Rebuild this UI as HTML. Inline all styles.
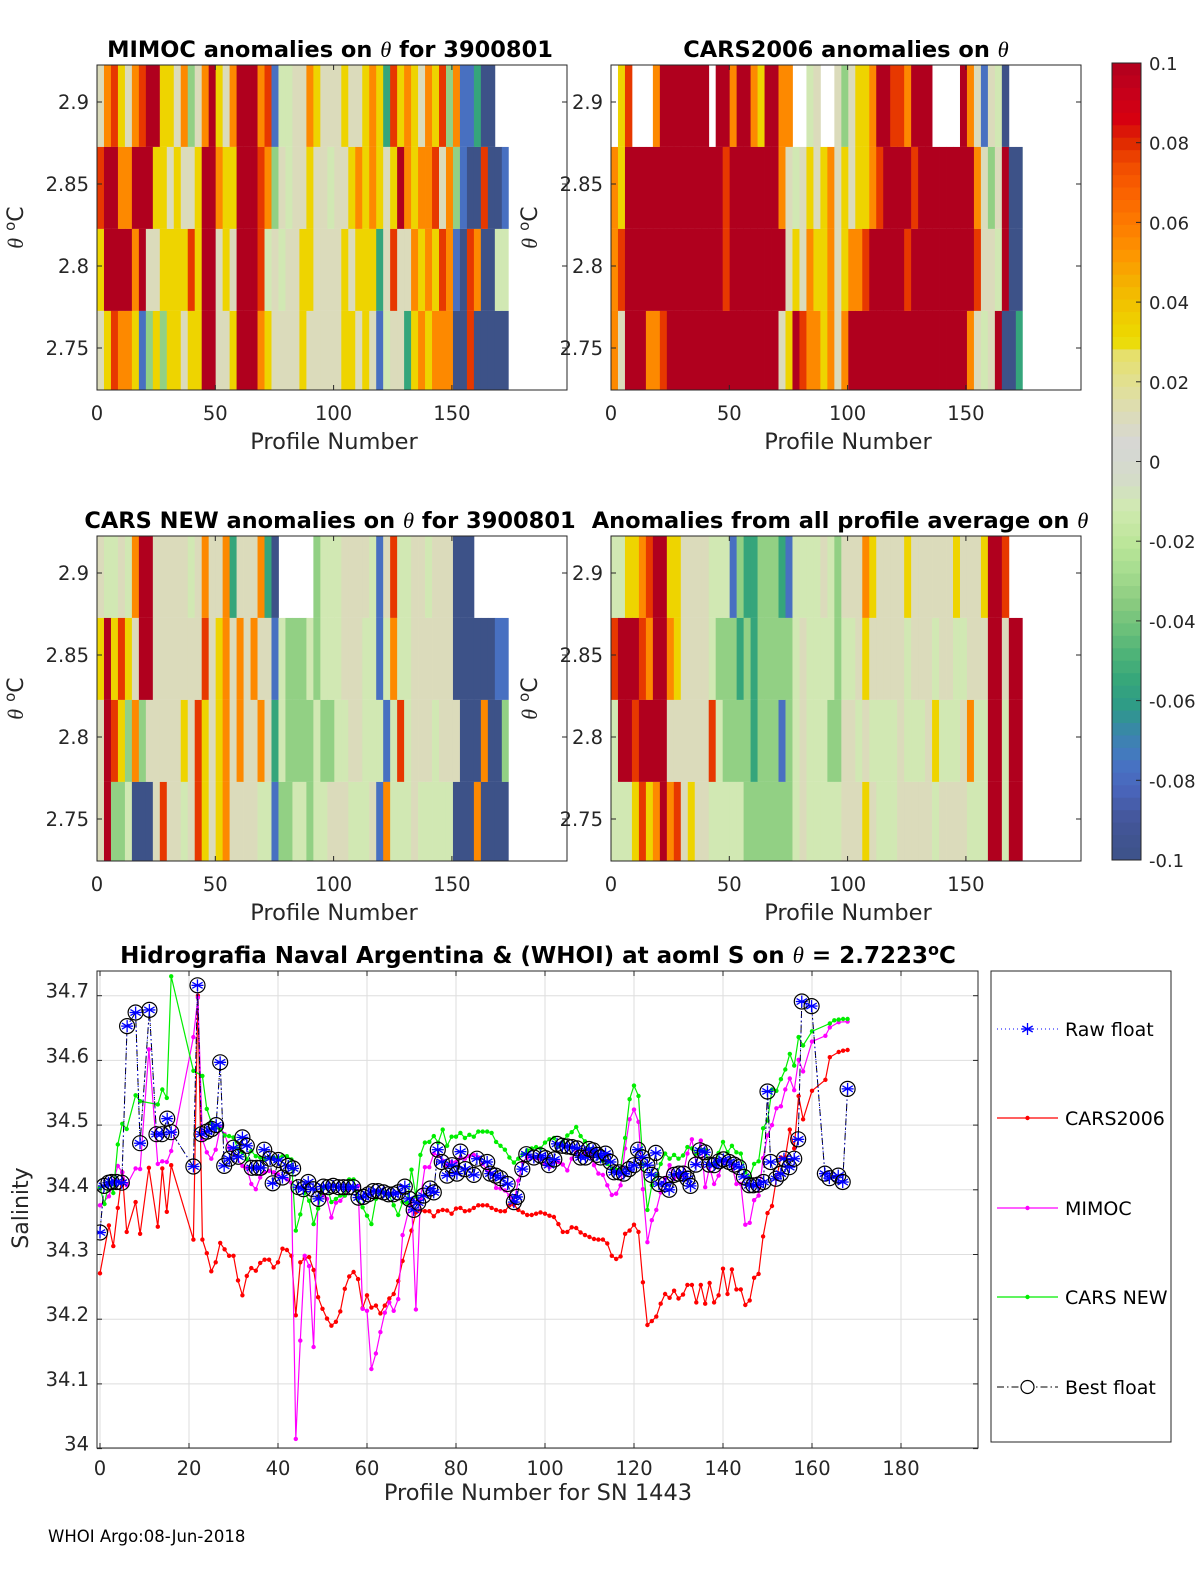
<!DOCTYPE html>
<html><head><meta charset="utf-8">
<style>
html,body{margin:0;padding:0;background:#fff;}
svg{display:block;font-family:"DejaVu Sans","Liberation Sans",sans-serif;}
</style></head>
<body>
<svg id="fig" xmlns="http://www.w3.org/2000/svg" width="1200" height="1575" viewBox="0 0 1200 1575">
<rect x="0" y="0" width="1200" height="1575" fill="#fff"/>
<g id="heat"></g>
<g id="cbar"></g>
<g id="sal"></g>
<text x="48" y="1542" font-size="16.5" fill="#000">WHOI Argo:08-Jun-2018</text>
</svg>
<script>
// ---------- heatmap data (one char per chunk, 0..9 = -0.1..0.1, '.' = no data) ----------
const mimocRows = [
 "578657899665735796579997814455765556556762867657683711200",
 "899779996656556997669998735455655455676765697677857310080011",
 "69999795566668699565999845455665555656662585576768710870044",
 "56877613636656699556999765555655555665651455267677700800000"
];
const cars2006Rows = [
 ".68...79999999.99799769977..45..53566799887999....9751540",
 "769999999999999989999999754565675656678999989999999975359003 3",
 "789999999999999989999999956576675677899999899999999985549005 5",
 "75999778999999999999999956987767579999999999999999975459002 2"
];
const carsNewRows = [
 "54454799555554575572555720.....34445555415844554555000",
 "69686599555555585675757551433343444555441474455555500000011",
 "598637355555658656757557524333343344554441484555455500070033",
 "59334000585545865675555441334434455544451744454444400070000"
];
const avgRows = [
 "446678996655554441322333214444543555765555655555565556998",
 "89998799765555433323233333454444344565555545554554455599599",
 "4998 9999 5555 5584 3333 2333 1345 4443 3554 5444 4544 4564 4457 4499 499",
 "4446 8679 7856 5544 4443 3333 3345 4444 4555 6544 4555 5545 5554 4499 499"
];
const rowEdgesTheta = [2.9226, 2.8726, 2.8226, 2.7726, 2.7244];
const chunkProfiles = 2.95;
const lastProfile = 174;
const xTicksTop = [0, 50, 100, 150];
const yTicksTop = [2.75, 2.8, 2.85, 2.9];
const cbarTicks = [0.1, 0.08, 0.06, 0.04, 0.02, 0, -0.02, -0.04, -0.06, -0.08, -0.1];
const cbarLabels = ["0.1","0.08","0.06","0.04","0.02","0","-0.02","-0.04","-0.06","-0.08","-0.1"];

// ---------- salinity series ----------
const bestP = [0,0.9,1.9,2.6,3.7,4.9,6.1,8,9,11.1,12.7,13.9,15.1,16,21,21.9,22.8,24,25.1,26.1,27,27.9,29.1,30,31.1,32,33,34.1,35.2,36.1,36.9,38.2,38.8,40.1,41,42.3,43.4,44.6,45.7,46.8,47.9,49.1,50.2,51.3,52.4,53.6,54.7,55.8,56.9,58.1,59.2,60.3,61.4,62.5,63.7,64.8,65.9,67,68.5,69.5,70.5,71.5,72.7,74.2,75,75.9,76.8,78,79.1,80.2,81,82.1,84,84.7,87,87.7,88.9,90,91.6,93,93.7,94.9,95.8,97.5,99,100.1,100.9,102.1,102.7,103.9,105,106.1,107.2,108,109.1,109.9,110.8,111.7,112.5,113.6,114.7,115.5,116.6,117.7,118.9,120,120.9,121.9,123,123.9,124.9,125.6,127.1,127.9,129,130.1,131.1,132,132.7,133.9,134.8,135.9,136.9,138,139.1,140.1,141.4,142.5,143.6,144.7,145.9,146.8,147.9,149.1,150,150.7,151.9,153,153.7,154.9,156,156.9,157.7,159.9,162.9,163.9,165.9,166.9,168];
const bestS = [34.334,34.406,34.411,34.412,34.412,34.411,34.653,34.674,34.472,34.678,34.486,34.486,34.51,34.489,34.436,34.716,34.486,34.49,34.494,34.5,34.597,34.437,34.448,34.465,34.451,34.481,34.468,34.434,34.434,34.434,34.462,34.448,34.41,34.446,34.419,34.437,34.433,34.404,34.401,34.412,34.401,34.386,34.405,34.404,34.406,34.404,34.404,34.404,34.404,34.388,34.389,34.393,34.398,34.398,34.396,34.393,34.393,34.396,34.405,34.386,34.369,34.38,34.391,34.402,34.396,34.462,34.443,34.422,34.438,34.425,34.459,34.432,34.423,34.448,34.443,34.425,34.422,34.418,34.409,34.381,34.389,34.432,34.455,34.45,34.453,34.449,34.438,34.447,34.471,34.468,34.467,34.466,34.464,34.45,34.45,34.463,34.461,34.454,34.45,34.456,34.443,34.427,34.427,34.425,34.432,34.438,34.462,34.45,34.438,34.423,34.457,34.409,34.409,34.4,34.423,34.425,34.425,34.417,34.406,34.439,34.461,34.458,34.439,34.438,34.444,34.447,34.443,34.439,34.435,34.42,34.407,34.407,34.408,34.412,34.552,34.443,34.417,34.425,34.448,34.435,34.448,34.478,34.691,34.684,34.425,34.418,34.422,34.412,34.556];

const newP = [0,1,2,3,4,5,6,8,9,13,14,15,16,21,23,24,25,26,27,28,29,30,31,32,33,34,35,36,37,38,39,40,41,42,43,44,45,46,47,48,49,50,51,52,53,54,55,56,57,58,59,60,61,62,63,64,65,66,67,68,69,70,71,72,73,74,75,76,77,78,79,80,81,82,83,84,85,86,87,88,89,90,91,92,93,94,95,96,97,98,99,100,101,102,103,104,105,106,107,108,109,110,111,112,113,114,115,116,117,118,119,120,121,122,123,124,125,126,127,128,129,130,131,132,133,134,135,136,137,138,139,140,141,142,143,144,145,146,147,148,149,150,151,152,153,154,155,156,157,158,160,164,165,166,167,168];
const newS = [34.403,34.378,34.412,34.395,34.47,34.502,34.494,34.546,34.537,34.532,34.555,34.542,34.73,34.584,34.576,34.525,34.504,34.496,34.494,34.484,34.483,34.481,34.463,34.458,34.447,34.46,34.452,34.45,34.447,34.45,34.45,34.45,34.452,34.452,34.447,34.337,34.362,34.396,34.383,34.347,34.371,34.401,34.406,34.381,34.386,34.391,34.391,34.416,34.416,34.386,34.373,34.36,34.347,34.386,34.396,34.396,34.391,34.376,34.361,34.381,34.38,34.431,34.39,34.454,34.473,34.474,34.483,34.473,34.493,34.468,34.482,34.482,34.488,34.48,34.485,34.482,34.49,34.49,34.49,34.488,34.474,34.468,34.462,34.45,34.442,34.448,34.455,34.461,34.464,34.466,34.464,34.473,34.478,34.48,34.468,34.475,34.484,34.489,34.497,34.483,34.475,34.463,34.456,34.45,34.445,34.44,34.433,34.431,34.432,34.48,34.54,34.561,34.545,34.44,34.369,34.407,34.422,34.44,34.456,34.448,34.454,34.448,34.453,34.466,34.464,34.456,34.462,34.461,34.438,34.438,34.457,34.474,34.458,34.468,34.458,34.456,34.427,34.42,34.44,34.444,34.495,34.507,34.555,34.553,34.571,34.586,34.61,34.592,34.636,34.623,34.645,34.657,34.662,34.663,34.664,34.664];

const mimocP = [0,2,4,5,6,8,9,11,13,14,15,16,21,22,23,24,25,26,27,28,29,32,33,34,35,36,37,38,39,40,41,42,43,44,45,46,47,48,49,50,51,52,53,54,55,56,57,58,59,60,61,62,63,64,65,66,67,68,70,71,72,73,74,75,76,77,78,79,80,81,82,83,84,85,86,87,88,89,90,91,92,93,94,95,96,97,98,99,100,101,102,103,104,105,106,107,108,109,110,111,112,113,114,115,116,117,118,119,120,121,122,123,124,125,126,127,128,129,130,131,132,133,134,135,136,137,138,139,140,141,142,143,144,145,146,147,148,149,150,151,152,153,154,155,156,157,158,160,163,164,166,168];
const mimocS = [34.376,34.39,34.437,34.427,34.407,34.433,34.432,34.617,34.44,34.444,34.443,34.46,34.636,34.697,34.478,34.458,34.448,34.462,34.496,34.486,34.465,34.437,34.434,34.409,34.401,34.419,34.427,34.429,34.427,34.424,34.419,34.416,34.411,34.015,34.167,34.298,34.282,34.157,34.386,34.391,34.386,34.357,34.38,34.383,34.391,34.401,34.404,34.406,34.216,34.213,34.123,34.147,34.18,34.21,34.226,34.213,34.231,34.33,34.386,34.215,34.386,34.435,34.435,34.456,34.453,34.445,34.438,34.443,34.443,34.449,34.448,34.452,34.454,34.45,34.44,34.43,34.425,34.403,34.402,34.399,34.391,34.381,34.414,34.443,34.45,34.45,34.449,34.448,34.44,34.435,34.443,34.443,34.439,34.43,34.448,34.458,34.453,34.458,34.458,34.438,34.425,34.423,34.407,34.392,34.394,34.407,34.464,34.509,34.524,34.505,34.401,34.319,34.353,34.369,34.396,34.417,34.438,34.417,34.422,34.422,34.456,34.478,34.439,34.476,34.404,34.435,34.409,34.422,34.443,34.445,34.438,34.409,34.409,34.346,34.349,34.384,34.391,34.449,34.484,34.5,34.526,34.529,34.555,34.572,34.554,34.601,34.583,34.629,34.638,34.651,34.659,34.66];

const carsP = [0,2,3,4,5,6,8,9,11,13,14,15,16,21,22,23,24,25,26,27,28,29,30,31,32,33,34,35,36,37,38,39,40,41,42,43,44,45,46,47,48,49,50,51,52,53,54,55,56,57,58,59,60,61,62,63,64,65,66,67,68,70,71,72,73,74,75,76,77,78,79,80,81,82,83,84,85,86,87,88,89,90,91,92,93,94,95,96,97,98,99,100,101,102,103,104,105,106,107,108,109,110,111,112,113,114,115,116,117,118,119,120,121,122,123,124,125,126,127,128,129,130,131,132,133,134,135,136,137,138,139,140,141,142,143,144,145,146,147,148,149,150,151,152,153,154,155,156,157,158,160,163,164,166,167,168];
const carsS = [34.271,34.345,34.313,34.372,34.427,34.335,34.381,34.332,34.434,34.343,34.433,34.366,34.438,34.323,34.7,34.323,34.302,34.274,34.288,34.318,34.308,34.298,34.298,34.26,34.237,34.267,34.279,34.275,34.287,34.292,34.292,34.28,34.288,34.309,34.307,34.298,34.206,34.288,34.294,34.296,34.276,34.234,34.216,34.201,34.19,34.196,34.212,34.247,34.266,34.273,34.262,34.217,34.237,34.218,34.221,34.209,34.221,34.232,34.239,34.259,34.29,34.337,34.365,34.368,34.367,34.367,34.359,34.367,34.369,34.368,34.363,34.371,34.372,34.367,34.368,34.372,34.376,34.376,34.376,34.372,34.369,34.367,34.367,34.376,34.377,34.369,34.365,34.361,34.361,34.363,34.365,34.363,34.36,34.358,34.347,34.335,34.335,34.342,34.341,34.334,34.33,34.327,34.324,34.323,34.323,34.317,34.298,34.293,34.297,34.332,34.337,34.346,34.335,34.257,34.191,34.197,34.204,34.224,34.239,34.233,34.244,34.232,34.238,34.253,34.253,34.226,34.253,34.224,34.256,34.226,34.237,34.278,34.239,34.277,34.246,34.246,34.222,34.229,34.264,34.27,34.328,34.364,34.375,34.417,34.45,34.45,34.493,34.464,34.545,34.509,34.553,34.57,34.605,34.613,34.615,34.616];

const salXTicks = [0,20,40,60,80,100,120,140,160,180];
const salYTicks = [34,34.1,34.2,34.3,34.4,34.5,34.6,34.7];
const salYLabels = ["34","34.1","34.2","34.3","34.4","34.5","34.6","34.7"];

// ---------- helpers ----------
const NS = "http://www.w3.org/2000/svg";
function mk(tag, attrs, parent, txt){
  const e = document.createElementNS(NS, tag);
  for (const k in attrs) e.setAttribute(k, attrs[k]);
  if (txt !== undefined) e.textContent = txt;
  parent.appendChild(e);
  return e;
}
const cmapStops = [
 [-0.1,"#3d5288"],[-0.09,"#44569a"],[-0.082,"#4a66bc"],[-0.075,"#4676c4"],[-0.068,"#3a86aa"],[-0.062,"#2e9a88"],
 [-0.055,"#36a67a"],[-0.048,"#50b478"],[-0.042,"#6cc07a"],[-0.035,"#8ccc80"],[-0.028,"#a5dc8f"],[-0.02,"#bde69a"],
 [-0.012,"#d0eab0"],[-0.005,"#d4dcc8"],[0.004,"#d6d6d6"],[0.012,"#dcdcb8"],[0.02,"#e2e090"],[0.027,"#e6e06a"],
 [0.03,"#ecdc00"],[0.038,"#f0c800"],[0.045,"#f5b000"],[0.052,"#fd9500"],[0.06,"#fd7a00"],[0.068,"#fa6000"],
 [0.075,"#f04a00"],[0.08,"#e02a00"],[0.086,"#d60010"],[0.092,"#c8001a"],[0.1,"#b0001e"]];
function hex2rgb(h){return [parseInt(h.substr(1,2),16),parseInt(h.substr(3,2),16),parseInt(h.substr(5,2),16)];}
function cmap(v){
  if (v <= cmapStops[0][0]) return cmapStops[0][1];
  for (let i=1;i<cmapStops.length;i++){
    if (v <= cmapStops[i][0]){
      const a=cmapStops[i-1], b=cmapStops[i], t=(v-a[0])/(b[0]-a[0]);
      const ca=hex2rgb(a[1]), cb=hex2rgb(b[1]);
      return "rgb("+ca.map((c,j)=>Math.round(c+(cb[j]-c)*t)).join(",")+")";
    }
  }
  return cmapStops[cmapStops.length-1][1];
}
function levelValue(ch){ return -0.1 + (+ch)*0.2/9; }

// ---------- heatmap panels ----------
const heat = document.getElementById("heat");
const panels = [
 {rows: mimocRows, left:97, top:65, name:"mimoc", title:["MIMOC anomalies on ","θ","  for 3900801"], tx:330},
 {rows: cars2006Rows, left:611, top:65, name:"cars2006", title:["CARS2006 anomalies on ","θ",""], tx:846},
 {rows: carsNewRows, left:97, top:536, name:"cars-new", title:["CARS NEW anomalies on ","θ"," for 3900801"], tx:330},
 {rows: avgRows, left:611, top:536, name:"profile-average", title:["Anomalies from all profile average on ","θ",""], tx:840}
];
const PW = 470, PH = 325, PXS = 2.366;
panels.forEach((pn, pi) => {
  const g = mk("g", {}, heat);
  
  
  const xs = p => pn.left + p*PXS;
  const ys = t => pn.top + 37 + (2.9 - t)*1640;
  const clipId = "clip"+pi;
  const cp = mk("clipPath", {id:clipId}, g);
  mk("rect", {x:pn.left, y:pn.top, width:xs(lastProfile)-pn.left, height:PH}, cp);
  const cells = mk("g", {"clip-path":"url(#"+clipId+")"}, g);
  
  
  pn.rows.forEach((rs, ri) => {
    const s = rs.replace(/\s/g, "");
    const y0 = ys(rowEdgesTheta[ri]), y1 = ys(rowEdgesTheta[ri+1]);
    for (let i=0;i<s.length;i++){
      const ch = s[i];
      if (ch === ".") continue;
      const x0 = xs(i*chunkProfiles), x1 = xs((i+1)*chunkProfiles);
      const r = mk("rect", {x:x0.toFixed(2), y:y0.toFixed(2), width:(x1-x0+0.4).toFixed(2), height:(y1-y0).toFixed(2), fill:cmap(levelValue(ch))}, cells);
      
      
    }
  });
  const box = mk("rect", {x:pn.left, y:pn.top, width:PW, height:PH, fill:"none", stroke:"#262626", "stroke-width":1}, g);
  
  
  xTicksTop.forEach(t => {
    const x = xs(t);
    mk("line", {x1:x, x2:x, y1:pn.top+PH, y2:pn.top+PH-5, stroke:"#262626"}, g);
    mk("line", {x1:x, x2:x, y1:pn.top, y2:pn.top+5, stroke:"#262626"}, g);
    const tl = mk("text", {x:x, y:pn.top+PH+30, "font-size":19.5, "text-anchor":"middle", fill:"#262626"}, g, String(t));
    
    
  });
  yTicksTop.forEach(t => {
    const y = ys(t);
    mk("line", {x1:pn.left, x2:pn.left+5, y1:y, y2:y, stroke:"#262626"}, g);
    mk("line", {x1:pn.left+PW, x2:pn.left+PW-5, y1:y, y2:y, stroke:"#262626"}, g);
    const tl = mk("text", {x:pn.left-8, y:y+7, "font-size":19.5, "text-anchor":"end", fill:"#262626"}, g, String(t));
    
    
  });
  const xl = mk("text", {x:pn.left+PW/2+2, y:pn.top+PH+59, "font-size":22.5, "text-anchor":"middle", fill:"#262626"}, g, "Profile Number");
  
  
  const yl = mk("text", {transform:"translate("+(pn.left-74)+","+(pn.top+PH/2)+") rotate(-90)", "font-size":22, "text-anchor":"middle", fill:"#262626"}, g);
  
  
  mk("tspan", {"font-style":"italic", "font-family":"Liberation Serif, serif"}, yl, "θ");
  mk("tspan", {}, yl, " ");
  mk("tspan", {dy:-8, "font-size":15}, yl, "o");
  mk("tspan", {dy:8}, yl, "C");
  const tt = mk("text", {x:pn.tx, y:pn.top-8, "font-size":22.5, "font-weight":"bold", "text-anchor":"middle", fill:"#000", "xml:space":"preserve"}, g);
  
  
  mk("tspan", {}, tt, pn.title[0]);
  mk("tspan", {"font-style":"italic", "font-weight":"normal", "font-family":"Liberation Serif, serif"}, tt, pn.title[1]);
  if (pn.title[2]) mk("tspan", {}, tt, pn.title[2]);
});

// ---------- colorbar ----------
const cb = document.getElementById("cbar");
const CBX=1112, CBW=29, CBT=63, CBB=860;
const cy = v => CBT + (0.1 - v)/0.2*(CBB-CBT);
const nb = 64;
for (let i=0;i<nb;i++){
  const v1 = 0.1 - i*0.2/nb, v2 = 0.1 - (i+1)*0.2/nb;
  const r = mk("rect", {x:CBX, y:cy(v1), width:CBW, height:(cy(v2)-cy(v1)+0.5), fill:cmap((v1+v2)/2)}, cb);
  
  
}
mk("rect", {x:CBX, y:CBT, width:CBW, height:CBB-CBT, fill:"none", stroke:"#262626"}, cb);
cbarTicks.forEach((t,i) => {
  const y = cy(t);
  mk("line", {x1:CBX+CBW, x2:CBX+CBW-5, y1:y, y2:y, stroke:"#262626"}, cb);
  const tl = mk("text", {x:CBX+CBW+8, y:y+7, "font-size":18, fill:"#262626"}, cb, cbarLabels[i]);
  
  
});

// ---------- salinity chart ----------
const sal = document.getElementById("sal");
const AX0=97, AX1=978, AY0=971, AY1=1448;
const sx = p => 100 + p*4.45;
const sy = s => 995.7 + (34.7 - s)*647;
salXTicks.forEach(t => {
  const x = sx(t);
  mk("line", {x1:x, x2:x, y1:AY0, y2:AY1, stroke:"#dedede"}, sal);
});
salYTicks.forEach(t => {
  const y = sy(t);
  mk("line", {x1:AX0, x2:AX1, y1:y, y2:y, stroke:"#dedede"}, sal);
});
const clipS = mk("clipPath", {id:"clipSal"}, sal);
mk("rect", {x:AX0, y:AY0, width:AX1-AX0, height:AY1-AY0}, clipS);
const plot = mk("g", {"clip-path":"url(#clipSal)"}, sal);

function series(P, S, color, name){
  const g = mk("g", {}, plot);
  
  
  const n = Math.min(P.length, S.length);
  let d = "";
  for (let i=0;i<n;i++) d += (i?"L":"M") + sx(P[i]).toFixed(1) + "," + sy(S[i]).toFixed(1);
  mk("path", {d:d, fill:"none", stroke:color, "stroke-width":1.2}, g);
  for (let i=0;i<n;i++){
    const c = mk("circle", {cx:sx(P[i]).toFixed(1), cy:sy(S[i]).toFixed(1), r:2.2, fill:color}, g);
    
    
  }
}
series(carsP, carsS, "#ff0000", "cars2006-line");
series(mimocP, mimocS, "#ff00ff", "mimoc-line");
series(newP, newS, "#00ee00", "cars-new-line");

function star(g, x, y, r, color){
  for (let k=0;k<3;k++){
    const a = Math.PI/2 + k*Math.PI/3;
    mk("line", {x1:x-r*Math.cos(a), y1:y-r*Math.sin(a), x2:x+r*Math.cos(a), y2:y+r*Math.sin(a), stroke:color, "stroke-width":1.3}, g);
  }
  mk("line", {x1:x-r, y1:y, x2:x+r, y2:y, stroke:color, "stroke-width":1.3}, g);
}
{
  const g = mk("g", {}, plot);
  
  
  const n = Math.min(bestP.length, bestS.length);
  let d = "";
  for (let i=0;i<n;i++) d += (i?"L":"M") + sx(bestP[i]).toFixed(1) + "," + sy(bestS[i]).toFixed(1);
  mk("path", {d:d, fill:"none", stroke:"#000", "stroke-width":1, "stroke-dasharray":"7,3,1.5,3"}, g);
  mk("path", {d:d, fill:"none", stroke:"#0000ff", "stroke-width":1, "stroke-dasharray":"1,3"}, g);
  for (let i=0;i<n;i++){
    const x = sx(bestP[i]), y = sy(bestS[i]);
    star(g, x, y, 6, "#0000ff");
    const c = mk("circle", {cx:x.toFixed(1), cy:y.toFixed(1), r:7.5, fill:"none", stroke:"#000", "stroke-width":1.2}, g);
    
    
  }
}
mk("rect", {x:AX0, y:AY0, width:AX1-AX0, height:AY1-AY0, fill:"none", stroke:"#262626"}, sal);
salXTicks.forEach(t => {
  const x = sx(t);
  mk("line", {x1:x, x2:x, y1:AY1, y2:AY1-5, stroke:"#262626"}, sal);
  mk("line", {x1:x, x2:x, y1:AY0, y2:AY0+5, stroke:"#262626"}, sal);
  const tl = mk("text", {x:x, y:AY1+27, "font-size":19.5, "text-anchor":"middle", fill:"#262626"}, sal, String(t));
  
  
});
salYTicks.forEach((t,i) => {
  const y = sy(t);
  mk("line", {x1:AX0, x2:AX0+5, y1:y, y2:y, stroke:"#262626"}, sal);
  mk("line", {x1:AX1, x2:AX1-5, y1:y, y2:y, stroke:"#262626"}, sal);
  const tl = mk("text", {x:AX0-8, y:y+2, "font-size":19.5, "text-anchor":"end", fill:"#262626"}, sal, salYLabels[i]);
  
  
});
{
  const xl = mk("text", {x:538, y:1500, "font-size":22.5, "text-anchor":"middle", fill:"#262626"}, sal, "Profile Number for SN 1443");
  
  
  const yl = mk("text", {transform:"translate(28,1208) rotate(-90)", "font-size":22, "text-anchor":"middle", fill:"#262626"}, sal, "Salinity");
  
  
  const tt = mk("text", {x:538, y:963, "font-size":23, "font-weight":"bold", "text-anchor":"middle", fill:"#000"}, sal);
  
  
  mk("tspan", {}, tt, "Hidrografia Naval Argentina & (WHOI) at aoml S on ");
  mk("tspan", {"font-style":"italic", "font-weight":"normal", "font-family":"Liberation Serif, serif"}, tt, "θ");
  mk("tspan", {}, tt, " = 2.7223");
  mk("tspan", {dy:-8, "font-size":16}, tt, "o");
  mk("tspan", {dy:8}, tt, "C");
}
// legend
{
  const lg = mk("g", {}, sal);
  
  
  mk("rect", {x:991, y:971, width:180, height:471, fill:"#fff", stroke:"#262626"}, lg);
  const items = [
    {label:"Raw float", y:1029, kind:"raw"},
    {label:"CARS2006", y:1118, kind:"dot", color:"#ff0000"},
    {label:"MIMOC", y:1208, kind:"dot", color:"#ff00ff"},
    {label:"CARS NEW", y:1297, kind:"dot", color:"#00ee00"},
    {label:"Best float", y:1387, kind:"best"}
  ];
  items.forEach(it => {
    const e = mk("g", {}, lg);
    
    
    if (it.kind === "raw"){
      mk("line", {x1:997, x2:1058, y1:it.y, y2:it.y, stroke:"#0000ff", "stroke-dasharray":"1,3"}, e);
      star(e, 1027.5, it.y, 6, "#0000ff");
    } else if (it.kind === "best"){
      mk("line", {x1:997, x2:1058, y1:it.y, y2:it.y, stroke:"#000", "stroke-dasharray":"7,3,1.5,3"}, e);
      mk("circle", {cx:1027.5, cy:it.y, r:6.5, fill:"#fff", stroke:"#000", "stroke-width":1.2}, e);
    } else {
      mk("line", {x1:997, x2:1058, y1:it.y, y2:it.y, stroke:it.color, "stroke-width":1.2}, e);
      mk("circle", {cx:1027.5, cy:it.y, r:2.2, fill:it.color}, e);
    }
    mk("text", {x:1065, y:it.y+7, "font-size":19, fill:"#000"}, e, it.label);
  });
}
</script>
</body></html>
